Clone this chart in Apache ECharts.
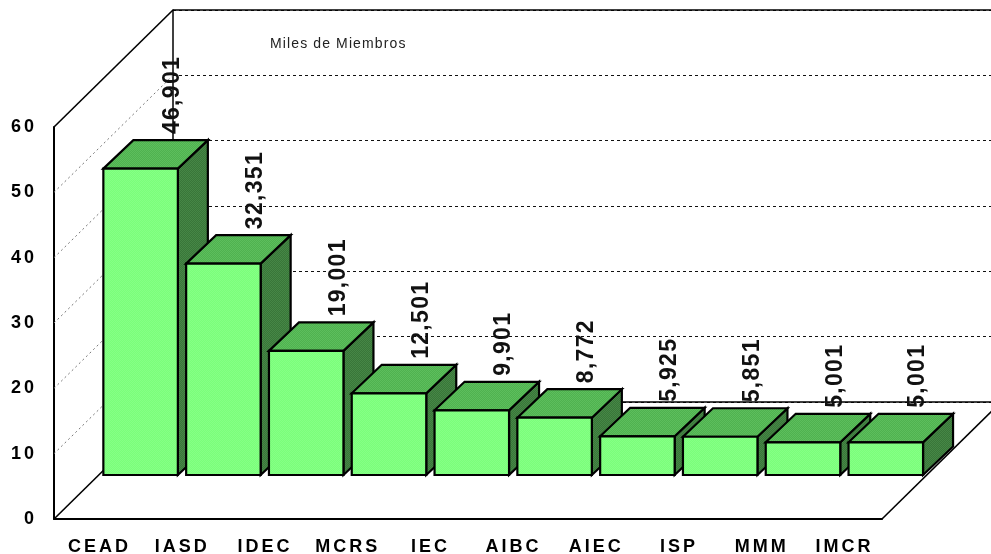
<!DOCTYPE html>
<html>
<head>
<meta charset="utf-8">
<style>html,body{margin:0;padding:0;background:#fff}#main{width:991px;height:554px}</style>
<script src="https://cdn.jsdelivr.net/npm/echarts@6/dist/echarts.min.js"></script>
</head>
<body>
<div id="main"></div>
<script>
const categories = ['CEAD','IASD','IDEC','MCRS','IEC','AIBC','AIEC','ISP','MMM','IMCR'];
const values = [46.901,32.351,19.001,12.501,9.901,8.772,5.925,5.851,5.001,5.001];
const wallTicks = [10,20,30,40,50];
const titleText = 'Miles de Miembros';

// Tracking of the bitmap-style lettering in the reference
const fontDesc = Object.getOwnPropertyDescriptor(CanvasRenderingContext2D.prototype,'font');
Object.defineProperty(CanvasRenderingContext2D.prototype,'font',{
  configurable:true,
  get(){return fontDesc.get.call(this);},
  set(v){
    fontDesc.set.call(this,v);
    this.letterSpacing = /bold 18px/.test(v) ? '3px' : /23px/.test(v) ? '1.3px' : /14px/.test(v) ? '1.12px' : '0px';
  }
});

function tile(a,b){
  const c=document.createElement('canvas');c.width=2;c.height=2;
  const x=c.getContext('2d');
  x.fillStyle=a;x.fillRect(0,0,2,2);
  x.fillStyle=b;x.fillRect(0,0,1,1);x.fillRect(1,1,1,1);
  return {image:c,repeat:'repeat'};
}
const frontFill=tile('#7AFF7A','#86FF86');
const topFill=tile('#4FB24F','#5DBE5D');
const sideFill=tile('#397639','#468746');

const wallDX=119, wallDY=-117;   // depth of the chart box
const floorDX=45.2, floorDY=-44; // where the bars stand on the floor
const depthX=30, depthY=-28.5;   // depth of a bar
const barW=74.5;

const chart=echarts.init(document.getElementById('main'),null,{renderer:'canvas'});
const fontFamily='"Liberation Sans", Arial, sans-serif';

chart.setOption({
  animation:false,
  backgroundColor:'#fff',
  title:{text:titleText,left:270,top:37,textStyle:{fontFamily,fontSize:14,fontWeight:'normal',color:'#222'},padding:0},
  grid:[
    {left:54,top:127,width:828,height:392,outerBoundsMode:'none'},
    {left:173,top:10,width:828,height:392,outerBoundsMode:'none'}
  ],
  xAxis:[
    {type:'category',gridIndex:0,data:categories,
     axisLine:{lineStyle:{color:'#000',width:2}},axisTick:{show:false},
     axisLabel:{margin:19,interval:0,color:'#000',fontFamily,fontSize:18,fontWeight:'bold',lineHeight:18,padding:[0,0,0,8]}},
    {type:'category',gridIndex:1,data:categories,
     axisLine:{lineStyle:{color:'#000',width:1.5}},axisTick:{show:false},axisLabel:{show:false}}
  ],
  yAxis:[
    {type:'value',gridIndex:0,min:0,max:60,interval:10,
     axisLine:{show:true,lineStyle:{color:'#000',width:2}},axisTick:{show:false},splitLine:{show:false},
     axisLabel:{margin:17,color:'#000',fontFamily,fontSize:18,fontWeight:'bold',padding:[3,0,0,0]}},
    {type:'value',gridIndex:1,min:0,max:60,interval:10,
     axisLine:{show:true,lineStyle:{color:'#000',width:1.5}},axisTick:{show:false},axisLabel:{show:false},
     splitLine:{show:true,lineStyle:{color:'#111',width:1,type:[3,3]}}}
  ],
  series:[
    {type:'custom',name:'wall',xAxisIndex:0,yAxisIndex:0,coordinateSystem:'cartesian2d',z:2,silent:true,
     data:wallTicks.map(v=>[0,v]),encode:{x:0,y:1},
     renderItem(params,api){
       const p=api.coord([0,api.value(1)]);
       const x=params.coordSys.x;
       return {type:'line',shape:{x1:x,y1:p[1],x2:x+wallDX,y2:p[1]+wallDY},
         style:{stroke:'#777',lineWidth:1,lineDash:[2,3],fill:null}};
     }},
    {type:'custom',name:'frame',xAxisIndex:0,yAxisIndex:0,coordinateSystem:'cartesian2d',z:3,silent:true,
     data:[[0,0,60]],encode:{x:0,y:1},
     renderItem(params,api){
       const cs=params.coordSys, b=api.coord([0,0])[1], t=api.coord([0,60])[1];
       const l=cs.x, r=cs.x+cs.width, st={stroke:'#000',lineWidth:1.6,fill:null};
       const line=(x1,y1,x2,y2)=>({type:'line',shape:{x1,y1,x2,y2},style:st});
       return {type:'group',children:[
         line(l,t,l+wallDX,t+wallDY),
         line(l+wallDX,t+wallDY,991,t+wallDY),
         line(l,b,l+wallDX,b+wallDY),
         line(r,b,r+wallDX,b+wallDY)
       ]};
     }},
    {type:'custom',name:'bars',xAxisIndex:0,yAxisIndex:0,coordinateSystem:'cartesian2d',z:4,silent:true,
     data:values.map((v,i)=>[i,v]),encode:{x:0,y:1},
     renderItem(params,api){
       const i=api.value(0), v=api.value(1);
       const base=api.coord([i,0]), top=api.coord([i,v]);
       const x0=base[0]-barW/2+floorDX, x1=x0+barW;
       const yb=base[1]+floorDY, yt=top[1]+floorDY;
       const st=(fill)=>({fill,stroke:'#000',lineWidth:2.2,lineJoin:'miter'});
       const poly=(points,fill)=>({type:'polygon',shape:{points},style:st(fill)});
       return {type:'group',children:[
         poly([[x1,yt],[x1+depthX,yt+depthY],[x1+depthX,yb+depthY],[x1,yb]],sideFill),
         poly([[x0,yt],[x0+depthX,yt+depthY],[x1+depthX,yt+depthY],[x1,yt]],topFill),
         poly([[x0,yt],[x1,yt],[x1,yb],[x0,yb]],frontFill)
       ]};
     }},
    {type:'custom',name:'labels',xAxisIndex:0,yAxisIndex:0,coordinateSystem:'cartesian2d',z:5,silent:true,
     data:values.map((v,i)=>[i,v]),encode:{x:0,y:1},
     renderItem(params,api){
       const i=api.value(0), v=api.value(1);
       const top=api.coord([i,v]);
       const x0=top[0]-barW/2+floorDX;
       return {type:'text',x:x0+69.5,y:top[1]+floorDY+depthY-6,rotation:Math.PI/2,
         style:{text:v.toFixed(3).replace('.',','),font:'bold 23px '+fontFamily,fill:'#111',align:'left',verticalAlign:'middle'}};
     }}
  ]
});
</script>
</body>
</html>
